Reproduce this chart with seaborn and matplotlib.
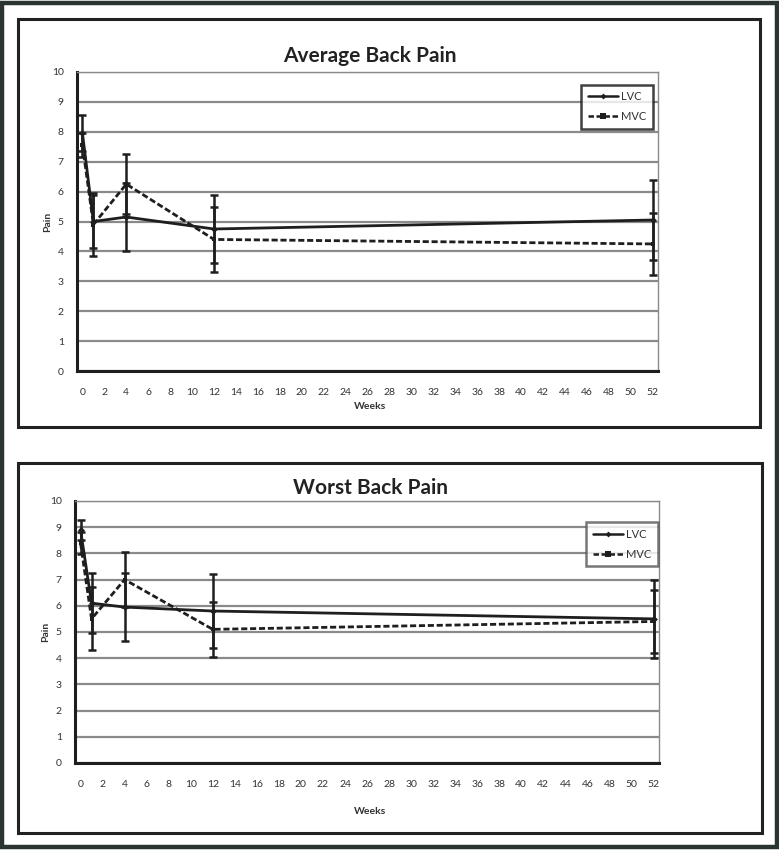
import matplotlib
matplotlib.use("Agg")
import matplotlib.pyplot as plt
from matplotlib.patches import Rectangle
from matplotlib.lines import Line2D
import seaborn as sns
import pandas as pd

sns.set_theme(style="white")
plt.rcParams["font.family"] = ["Lato", "DejaVu Sans"]

# Follow-up time points (weeks)
weeks = [0, 1, 4, 12, 52]
x_ticks = list(range(0, 53, 2))
y_ticks = list(range(0, 11))

# Average back pain
avg_lvc = [7.95, 5.0, 5.15, 4.75, 5.05]
avg_lvc_err = [0.6, 0.9, 1.15, 1.15, 1.35]
avg_mvc = [7.55, 4.9, 6.25, 4.4, 4.25]
avg_mvc_err = [0.4, 1.05, 1.0, 1.1, 1.05]

# Worst back pain
worst_lvc = [8.9, 6.1, 5.95, 5.8, 5.5]
worst_lvc_err = [0.38, 1.15, 1.3, 1.4, 1.5]
worst_mvc = [8.4, 5.5, 7.0, 5.1, 5.4]
worst_mvc_err = [0.42, 1.2, 1.05, 1.05, 1.2]

groups = ["LVC", "MVC"]
INK = "#1e1e1e"
GRID = "#8a8a8a"
LABEL = "#333333"

fig = plt.figure(figsize=(7.79, 8.5), dpi=100)

# outer frame and panel frames
fig.patches.append(Rectangle((0.003, 0.003), 0.994, 0.994, transform=fig.transFigure,
                             fill=False, lw=3.2, ec="#2b3430", zorder=0))
fig.patches.append(Rectangle((0.0231, 0.4976), 0.9525, 0.48, transform=fig.transFigure,
                             fill=False, lw=2.2, ec="#222222", zorder=0))
fig.patches.append(Rectangle((0.0231, 0.0200), 0.9551, 0.4353, transform=fig.transFigure,
                             fill=False, lw=2.2, ec="#222222", zorder=0))


def draw_panel(rect, title, lvc, lvc_err, mvc, mvc_err, title_y, xlabel_y, legend_rect, legend_ec):
    ax = fig.add_axes(rect)
    df = pd.DataFrame({
        "Weeks": weeks * 2,
        "Pain": lvc + mvc,
        "Group": ["LVC"] * len(weeks) + ["MVC"] * len(weeks),
    })
    sns.lineplot(data=df, x="Weeks", y="Pain", hue="Group", style="Group",
                 palette={"LVC": INK, "MVC": INK},
                 dashes={"LVC": "", "MVC": (2.2, 1.0)},
                 markers={"LVC": "D", "MVC": "s"},
                 markersize=3.5, markeredgewidth=0, linewidth=2.0,
                 legend=False, ax=ax, zorder=4)
    for vals, errs in ((lvc, lvc_err), (mvc, mvc_err)):
        ax.errorbar(weeks, vals, yerr=errs, fmt="none", ecolor=INK,
                    elinewidth=1.8, capsize=3, capthick=1.8, zorder=3)

    # category-style axis: labels on the weeks, tick marks between them
    ax.set_xlim(-0.5, 52.5)
    ax.set_ylim(0, 10)
    ax.set_xticks(x_ticks)
    ax.set_xticks([t - 0.5 for t in x_ticks] + [52.5], minor=True)
    ax.set_yticks(y_ticks)
    ax.tick_params(axis="y", labelsize=7.5, colors=LABEL, length=3.5,
                   width=1.6, direction="out", pad=6)
    ax.tick_params(axis="x", which="major", labelsize=7.5, colors=LABEL,
                   length=0, pad=12)
    ax.tick_params(axis="x", which="minor", length=3.5, width=1.6,
                   color=INK, direction="out")
    ax.yaxis.grid(True, color=GRID, lw=1.6)
    ax.xaxis.grid(False)
    for side in ("left", "bottom"):
        ax.spines[side].set_color(INK)
        ax.spines[side].set_linewidth(2.2)
    for side in ("top", "right"):
        ax.spines[side].set_color(GRID)
        ax.spines[side].set_linewidth(1.0)
    ax.set_xlabel("")
    ax.set_ylabel("Pain", fontsize=7.5, fontweight="bold", color=LABEL, labelpad=0)
    fig.text(0.475, xlabel_y, "Weeks", ha="center", va="center", fontsize=7.5,
             fontweight="bold", color=LABEL)
    fig.text(0.475, title_y, title, ha="center", va="center", fontsize=15,
             fontweight="bold", color="#222222")

    handles = [
        Line2D([], [], color=INK, lw=1.8, marker="D", markersize=3, mew=0),
        Line2D([], [], color=INK, lw=1.8, ls=(0, (2.2, 1.0)), marker="s",
               markersize=4, mew=0),
    ]
    leg = ax.legend(handles, groups, loc="upper right", bbox_to_anchor=legend_rect,
                    frameon=True, fancybox=False, fontsize=8, handlelength=2.7,
                    handletextpad=0.3, borderpad=0.6, labelspacing=0.8,
                    borderaxespad=0.0)
    leg.get_frame().set_edgecolor(legend_ec)
    leg.get_frame().set_linewidth(1.8)
    for t in leg.get_texts():
        t.set_color(LABEL)
    return ax


draw_panel([0.0988, 0.5635, 0.7459, 0.3518], "Average Back Pain",
           avg_lvc, avg_lvc_err, avg_mvc, avg_mvc_err,
           title_y=0.934, xlabel_y=0.522, legend_rect=(0.992, 0.958), legend_ec="#111111")
draw_panel([0.0963, 0.1024, 0.7497, 0.3082], "Worst Back Pain",
           worst_lvc, worst_lvc_err, worst_mvc, worst_mvc_err,
           title_y=0.426, xlabel_y=0.045, legend_rect=(0.998, 0.92), legend_ec="#555555")

fig.savefig("out.png", dpi=100, facecolor="white")
